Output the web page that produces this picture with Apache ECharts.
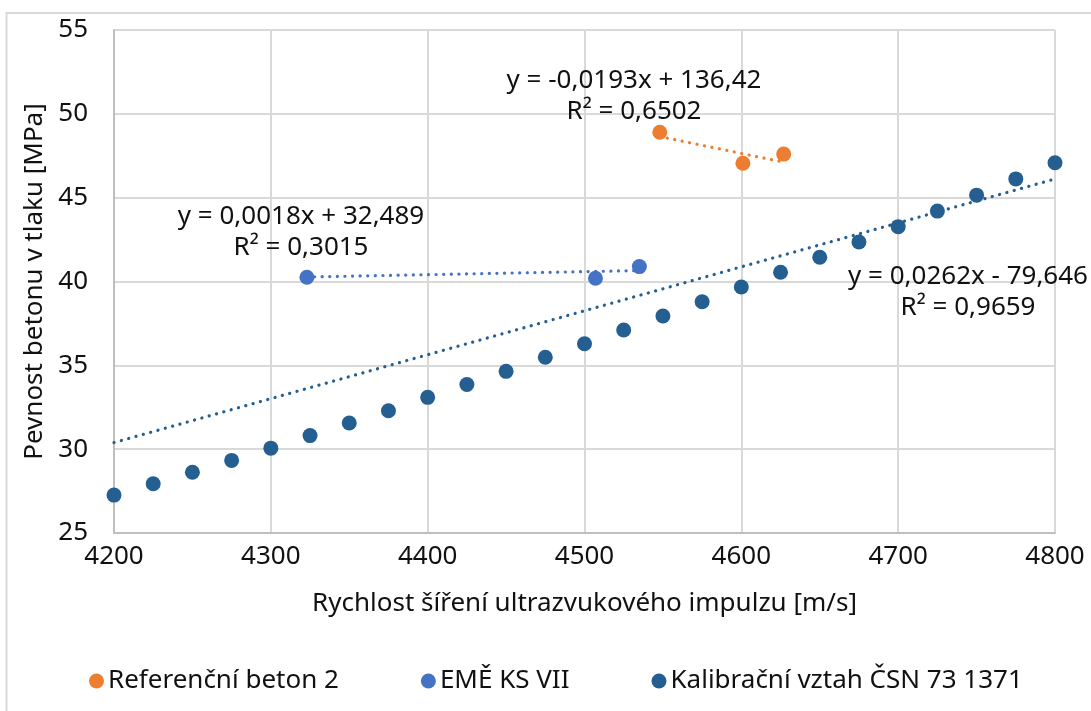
<!DOCTYPE html>
<html>
<head>
<meta charset="utf-8">
<script src="https://cdn.jsdelivr.net/npm/echarts@6/dist/echarts.min.js"></script>
<style>
  html, body { margin: 0; padding: 0; background: #ffffff; }
  #chart { width: 1091px; height: 711px; }
</style>
</head>
<body>
<div id="chart"></div>
<script>
// Kalibrační vztah ČSN 73 1371
const calX = [4200, 4225, 4250, 4275, 4300, 4325, 4350, 4375, 4400, 4425, 4450, 4475, 4500,
              4525, 4550, 4575, 4600, 4625, 4650, 4675, 4700, 4725, 4750, 4775, 4800];
const calY = [27.26, 27.94, 28.62, 29.33, 30.06, 30.81, 31.56, 32.29, 33.09, 33.86, 34.64, 35.48, 36.29,
              37.11, 37.94, 38.79, 39.67, 40.55, 41.45, 42.36, 43.27, 44.2, 45.15, 46.12, 47.08];

// Referenční beton 2
const refX = [4548, 4601, 4627];
const refY = [48.9, 47.05, 47.6];

// EMĚ KS VII
const emeX = [4323, 4507, 4535];
const emeY = [40.25, 40.19, 40.89];

// Series names shown in the legend
const seriesNames = ['Referenční beton 2', 'EMĚ KS VII', 'Kalibrační vztah ČSN 73 1371'];

// Linear trendlines y = a·x + b (same order as seriesNames)
const trendSlope = [-0.0193, 0.0018, 0.0262];
const trendIntercept = [136.42, 32.489, -79.646];
const trendEq = ['y = -0,0193x + 136,42', 'y = 0,0018x + 32,489', 'y = 0,0262x - 79,646'];
const trendR2 = ['R² = 0,6502', 'R² = 0,3015', 'R² = 0,9659'];

// Axis ranges / titles
const xRange = [4200, 4800, 100];
const yRange = [25, 55, 5];
const xTitle = 'Rychlost šíření ultrazvukového impulzu [m/s]';
const yTitle = 'Pevnost betonu v tlaku [MPa]';

const colors = ['#ED7D31', '#4472C4', '#255E91'];
const FONT = 'Noto Sans';
const FS = 26;
const TEXT = '#111111';

const xs = [refX, emeX, calX];
const ys = [refY, emeY, calY];

function pairs(x, y) { return x.map((v, i) => [v, y[i]]); }
function trend(i) {
  const lo = Math.min.apply(null, xs[i]);
  const hi = Math.max.apply(null, xs[i]);
  return [[lo, trendSlope[i] * lo + trendIntercept[i]], [hi, trendSlope[i] * hi + trendIntercept[i]]];
}

const scatterSeries = seriesNames.map((name, i) => ({
  name: name,
  type: 'scatter',
  data: pairs(xs[i], ys[i]),
  symbol: 'circle',
  symbolSize: 15,
  itemStyle: { color: colors[i], opacity: 1 },
  z: 2
}));

const trendSeries = seriesNames.map((name, i) => ({
  name: name + ' (trend)',
  type: 'line',
  data: trend(i),
  symbol: 'none',
  silent: true,
  lineStyle: { color: colors[i], width: 3.2, type: [0.1, 7.5], cap: 'round' },
  z: 3
}));

// Equation labels beside each trendline (centre x, first line y)
const labelPos = [[634, 81], [301, 217], [968, 277]];
const eqGraphics = [];
labelPos.forEach((p, i) => {
  eqGraphics.push({
    type: 'text', x: p[0], y: p[1], z: 10,
    style: { text: trendEq[i], fill: TEXT, font: FS + 'px "' + FONT + '"', textAlign: 'center', textVerticalAlign: 'middle' }
  });
  eqGraphics.push({
    type: 'text', x: p[0], y: p[1] + 31, z: 10,
    style: { text: trendR2[i], fill: TEXT, font: FS + 'px "' + FONT + '"', textAlign: 'center', textVerticalAlign: 'middle' }
  });
});

const chart = echarts.init(document.getElementById('chart'), null, { renderer: 'canvas' });
chart.setOption({
  backgroundColor: '#ffffff',
  animation: false,
  textStyle: { fontFamily: FONT },
  grid: { left: 114, right: 36, top: 30, bottom: 178, containLabel: false },
  xAxis: {
    type: 'value',
    min: xRange[0], max: xRange[1], interval: xRange[2],
    name: xTitle,
    nameLocation: 'middle',
    nameGap: 58,
    nameTextStyle: { color: TEXT, fontSize: FS, fontFamily: FONT },
    axisLine: { show: true, onZero: false, lineStyle: { color: '#bfbfbf', width: 2 } },
    axisTick: { show: false },
    axisLabel: { color: TEXT, fontSize: FS, fontFamily: FONT, margin: 11, formatter: v => String(v) },
    splitLine: { show: true, lineStyle: { color: '#d9d9d9', width: 2 } }
  },
  yAxis: {
    type: 'value',
    min: yRange[0], max: yRange[1], interval: yRange[2],
    name: yTitle,
    nameLocation: 'middle',
    nameGap: 64,
    nameTextStyle: { color: TEXT, fontSize: FS, fontFamily: FONT },
    axisLine: { show: true, onZero: false, lineStyle: { color: '#bfbfbf', width: 2 } },
    axisTick: { show: false },
    axisLabel: { color: TEXT, fontSize: FS, fontFamily: FONT, margin: 26 },
    splitLine: { show: true, lineStyle: { color: '#d9d9d9', width: 2 } }
  },
  legend: {
    data: seriesNames,
    left: 84,
    top: 663,
    icon: 'circle',
    itemWidth: 15,
    itemHeight: 15,
    itemGap: 82,
    textStyle: { color: TEXT, fontSize: FS, fontFamily: FONT, padding: [0, 0, 0, -1] }
  },
  graphic: [
    {
      type: 'rect', z: -10, silent: true,
      shape: { x: 6.5, y: 13, width: 1100, height: 720 },
      style: { fill: 'none', stroke: '#d9d9d9', lineWidth: 2 }
    }
  ].concat(eqGraphics),
  series: scatterSeries.concat(trendSeries)
});
</script>
</body>
</html>
